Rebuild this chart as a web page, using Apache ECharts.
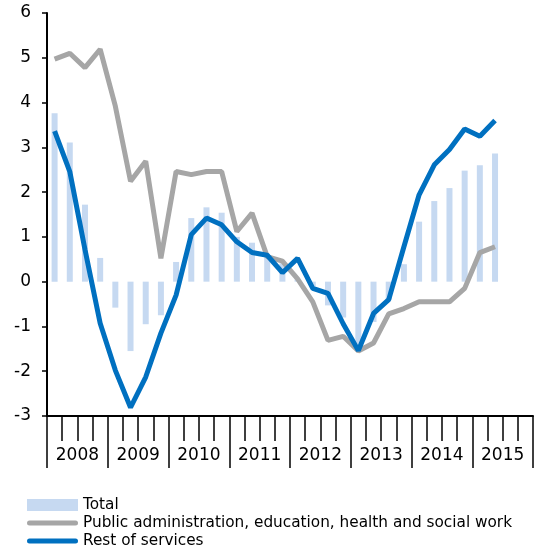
<!DOCTYPE html>
<html>
<head>
<meta charset="utf-8">
<script src="https://cdn.jsdelivr.net/npm/echarts@6/dist/echarts.min.js"></script>
<style>html,body{margin:0;padding:0;background:#fff;}#c{width:555px;height:553px;}</style>
</head>
<body>
<div id="c"></div>
<script>
var years = ['2008','2009','2010','2011','2012','2013','2014','2015'];
var quarters = [];
years.forEach(function(y){ ['Q1','Q2','Q3','Q4'].forEach(function(q){ quarters.push(y + q); }); });
var total = [3.76, 3.11, 1.72, 0.53, -0.58, -1.55, -0.95, -0.75, 0.44, 1.42, 1.66, 1.54, 1.0, 0.87, 0.58, 0.41, 0.05, -0.1, -0.53, -0.8, -1.45, -0.9, -0.4, 0.39, 1.34, 1.80, 2.09, 2.48, 2.60, 2.86];
var publicAdm = [4.97, 5.10, 4.78, 5.19, 3.92, 2.24, 2.69, 0.52, 2.46, 2.39, 2.46, 2.46, 1.12, 1.53, 0.56, 0.46, 0.06, -0.45, -1.31, -1.22, -1.55, -1.37, -0.72, -0.6, -0.45, -0.45, -0.45, -0.15, 0.65, 0.78];
var restServices = [3.36, 2.46, 0.72, -0.93, -1.98, -2.81, -2.13, -1.15, -0.3, 1.05, 1.42, 1.27, 0.89, 0.65, 0.59, 0.2, 0.52, -0.15, -0.26, -0.94, -1.54, -0.71, -0.4, 0.78, 1.94, 2.61, 2.95, 3.41, 3.25, 3.6];
var yTicks = { min: -3, max: 6, interval: 1 };

var font = 'DejaVu Sans';
var lineIcon = 'path://M2.5,0 L48.5,0 A2.5,2.5 0 0 1 48.5,5 L2.5,5 A2.5,2.5 0 0 1 2.5,0 Z';
var chart = echarts.init(document.getElementById('c'), null, { renderer: 'canvas' });
chart.setOption({
  animation: false,
  backgroundColor: '#fff',
  grid: { left: 47, right: 22, top: 13, bottom: 137, containLabel: false },
  legend: {
    orient: 'vertical', left: 27, top: 497.5, padding: 0, itemGap: 3,
    itemWidth: 51, itemHeight: 12,
    textStyle: { fontFamily: font, fontSize: 15.3, color: '#000' },
    data: [
      { name: 'Total', icon: 'rect' },
      { name: 'Public administration, education, health and social work', icon: lineIcon },
      { name: 'Rest of services', icon: lineIcon }
    ]
  },
  xAxis: [
    {
      type: 'category', data: quarters, position: 'bottom', boundaryGap: true,
      axisLine: { show: true, onZero: false, lineStyle: { color: '#000', width: 2 } },
      axisTick: { show: true, interval: 0, length: 25, lineStyle: { color: '#000', width: 1.5 } },
      axisLabel: { show: false },
      splitLine: { show: false }
    },
    {
      type: 'category', data: years, position: 'bottom', boundaryGap: true,
      axisLine: { show: false, onZero: false },
      axisTick: { show: true, interval: 0, length: 52, lineStyle: { color: '#000', width: 1.5 } },
      axisLabel: { show: true, interval: 0, margin: 31, fontFamily: font, fontSize: 17, color: '#000' },
      splitLine: { show: false }
    }
  ],
  yAxis: {
    type: 'value', min: yTicks.min, max: yTicks.max, interval: yTicks.interval,
    axisLine: { show: true, lineStyle: { color: '#000', width: 2 } },
    axisTick: { show: true, length: 5, lineStyle: { color: '#000', width: 1.5 } },
    axisLabel: { margin: 16, fontFamily: font, fontSize: 17, color: '#000' },
    splitLine: { show: false }
  },
  series: [
    {
      name: 'Total', type: 'bar', xAxisIndex: 0, data: total, barWidth: 6,
      itemStyle: { color: '#c6d9f1' }
    },
    {
      name: 'Public administration, education, health and social work', type: 'line', xAxisIndex: 0,
      data: publicAdm, symbol: 'none', lineStyle: { color: '#a6a6a6', width: 5 }, itemStyle: { color: '#a6a6a6' }
    },
    {
      name: 'Rest of services', type: 'line', xAxisIndex: 0,
      data: restServices, symbol: 'none', lineStyle: { color: '#0070c0', width: 5 }, itemStyle: { color: '#0070c0' }
    }
  ]
});
</script>
</body>
</html>
